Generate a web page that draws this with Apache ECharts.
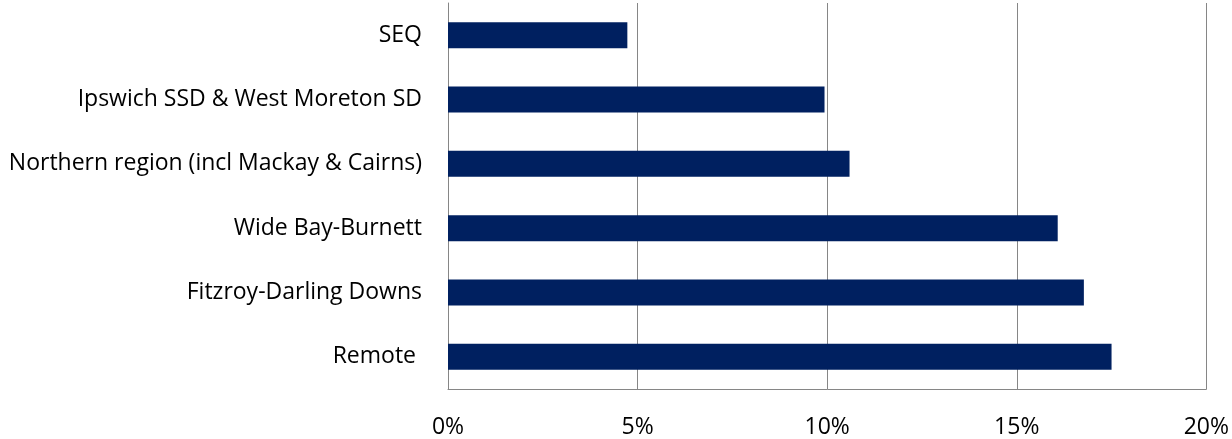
<!DOCTYPE html>
<html>
<head>
<meta charset="utf-8">
<script src="https://cdn.jsdelivr.net/npm/echarts@6/dist/echarts.min.js"></script>
<style>
  html, body { margin: 0; padding: 0; background: #ffffff; }
  #chart { width: 1232px; height: 439px; }
</style>
</head>
<body>
<div id="chart"></div>
<script>
// Regions, listed top to bottom
const regions = [
  'SEQ',
  'Ipswich SSD & West Moreton SD',
  'Northern region (incl Mackay & Cairns)',
  'Wide Bay-Burnett',
  'Fitzroy-Darling Downs',
  'Remote '
];
// Share per region, in percent
const shares = [4.73, 9.93, 10.59, 16.08, 16.77, 17.5];
// Value axis range and step, in percent
const axisMin = 0;
const axisMax = 20;
const axisStep = 5;

const FONT = '"Open Sans"';
const GREY = '#868686';

const chart = echarts.init(document.getElementById('chart'), null, { renderer: 'canvas' });
chart.setOption({
  animation: false,
  backgroundColor: '#ffffff',
  grid: { left: 448, right: 23, top: 3, bottom: 49, containLabel: false },
  xAxis: {
    type: 'value',
    min: axisMin,
    max: axisMax,
    interval: axisStep,
    axisLine: { show: true, lineStyle: { color: GREY, width: 1 } },
    axisTick: { show: false },
    splitLine: { show: true, lineStyle: { color: GREY, width: 1 } },
    axisLabel: {
      formatter: v => v + '%',
      color: '#000000',
      fontFamily: FONT,
      fontSize: 23,
      margin: 27
    }
  },
  yAxis: {
    type: 'category',
    data: regions,
    inverse: true,
    axisLine: { show: true, lineStyle: { color: GREY, width: 1 } },
    axisTick: { show: false },
    splitLine: { show: false },
    axisLabel: {
      color: '#000000',
      fontFamily: FONT,
      fontSize: 23,
      margin: 26
    }
  },
  series: [{
    type: 'bar',
    data: shares,
    barWidth: 26,
    itemStyle: { color: '#002060' }
  }]
});
</script>
</body>
</html>
